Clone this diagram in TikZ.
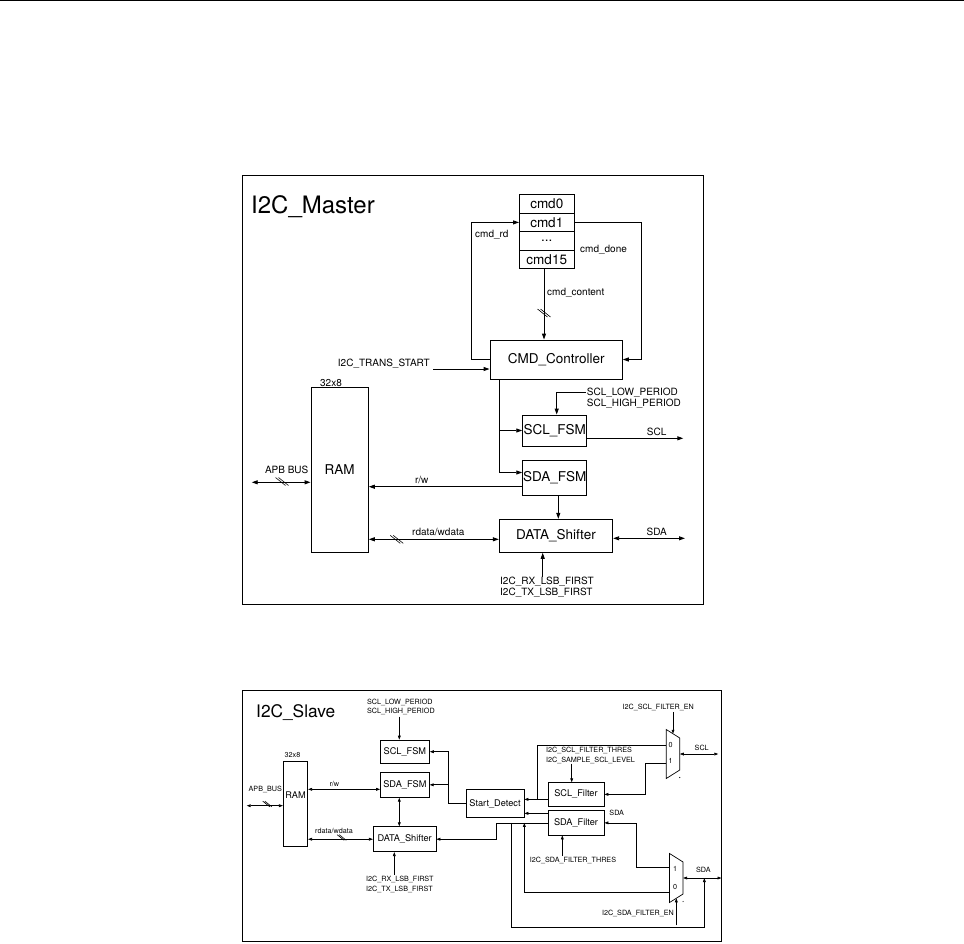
\documentclass[tikz,border=0pt]{standalone}
\usepackage{fontspec}
\setmainfont{TeX Gyre Heros}
\usetikzlibrary{arrows.meta}
\tikzset{
    frame/.style={line width=0.9pt},
    title/.style={inner sep=0pt, font=\fontsize{24}{27}\selectfont},
    titles/.style={inner sep=0pt, font=\fontsize{17.3}{20}\selectfont},
    blk/.style={draw, line width=0.9pt, inner sep=0pt, font=\fontsize{13.5}{15}\selectfont},
    blks/.style={draw, line width=0.7pt, inner sep=0pt, font=\fontsize{9.2}{10}\selectfont},
    lbl/.style={inner sep=1pt, align=left, font=\fontsize{10}{11.3}\selectfont},
    lbls/.style={inner sep=0.5pt, align=left, font=\fontsize{7.2}{9.5}\selectfont},
    sig/.style={line width=0.9pt, -{Triangle[length=6pt,width=4pt]}},
    dsig/.style={line width=0.9pt, {Triangle[length=6pt,width=4pt]}-{Triangle[length=6pt,width=4pt]}},
    wire/.style={line width=0.7pt},
    sigs/.style={line width=0.7pt, -{Triangle[length=4pt,width=2.8pt]}},
    dsigs/.style={line width=0.7pt, {Triangle[length=4pt,width=2.8pt]}-{Triangle[length=4pt,width=2.8pt]}},
    busmark/.pic={\draw[line width=0.6pt] (-6.5,-4) -- (3.5,4) (-3.5,-4) -- (6.5,4);},
    mux/.pic={
        \draw[line width=0.7pt] (-6.75,-24.5) -- (6.75,-16) -- (6.75,16) -- (-6.75,24.5) -- cycle;
        \coordinate (-top) at (0,-20.25);
        \coordinate (-bot) at (0,20.25);
        \coordinate (-out) at (6.75,0);
        \fill (6.8,23.5) circle (0.6);
    }
}

\begin{document}
\begin{tikzpicture}[x=1pt,y=-1pt]
    \useasboundingbox (0,0) rectangle (964,943);
    \draw[line width=1.2pt] (0,0.6) -- (964,0.6);

    % I2C master
    \draw[frame] (242.5,175) rectangle (703,604);
    \node[title, anchor=base west] (mtitle) at (251,213) {I2C\_Master};

    \node[blk, minimum width=54.5pt, minimum height=18.6pt] (c0) at (546.75,203.8) {cmd0};
    \node[blk, minimum width=54.5pt, minimum height=18.6pt] (c1) at (546.75,222.4) {cmd1};
    \node[blk, minimum width=54.5pt, minimum height=18.6pt] (cdots) at (546.75,241.0) {...};
    \node[blk, minimum width=54.5pt, minimum height=18.6pt] (c15) at (546.75,259.6) {cmd15};

    \node[blk, minimum width=132.3pt, minimum height=39pt] (ctrl) at (556.15,359.5) {CMD\_Controller};

    \draw[sig] (ctrl.west) -- ++(-17.7,0) |- (c1.west);
    \node[lbl, anchor=west] (cmdrd) at (474,235) {cmd\_rd};
    \draw[sig] (c1.east) -- ++(67,0) |- (ctrl.east);
    \node[lbl, anchor=west] (cmddone) at (579,250) {cmd\_done};
    \draw[sig] ([xshift=-2.75pt]c15.south) -- ([xshift=-2.75pt]c15.south |- ctrl.north);
    \node[lbl, anchor=west] (cmdcont) at (546,292.7) {cmd\_content};
    \pic at (544,313) {busmark};

    \coordinate (tsin) at (433,369);
    \node[lbl, anchor=east] (tstart) at (431,364) {I2C\_TRANS\_START};
    \draw[sig] (tsin) -- (tsin -| ctrl.west);

    \node[lbl] (ramsize) at (331,382.7) {32x8};
    \node[blk, minimum width=57.3pt, minimum height=165pt] (ram) at (339.65,469.8) {RAM};
    \node[blk, minimum width=64pt, minimum height=31pt] (sclfsm) at (554.7,430.5) {SCL\_FSM};
    \node[blk, minimum width=64pt, minimum height=35pt] (sdafsm) at (554.7,477.5) {SDA\_FSM};
    \node[blk, minimum width=113.4pt, minimum height=33pt] (shift) at (556,535.8) {DATA\_Shifter};

    \draw[sig] ([xshift=10pt]ctrl.south west) |- (sclfsm.west);
    \draw[sig] ([xshift=10pt]ctrl.south west) |- ([yshift=5pt]sdafsm.west);

    \node[lbl, anchor=west] (sclper) at (585.7,398.3) {SCL\_LOW\_PERIOD\\SCL\_HIGH\_PERIOD};
    \draw[sig] ([yshift=5.6pt]sclper.west) -| ([xshift=2pt]sclfsm.north);

    \coordinate (sclout) at (683.3,438.3);
    \draw[sig] (sclout -| sclfsm.east) -- (sclout);
    \node[lbl] (scllbl) at (656.7,431.7) {SCL};

    \draw[sig] ([yshift=-9.2pt]sdafsm.west) -- ([yshift=-9.2pt]sdafsm.west -| ram.east);
    \node[lbl] (rw) at (421.7,480) {r/w};
    \draw[sig] ([xshift=3.6pt]sdafsm.south) -- ([xshift=3.6pt]sdafsm.south |- shift.north);

    \draw[dsig] ([yshift=-3.5pt]shift.west) -- ([yshift=-3.5pt]shift.west -| ram.east);
    \node[lbl] (rdwd) at (438.3,532.3) {rdata/wdata};
    \pic at (396.7,539.3) {busmark};

    \coordinate (sdaout) at (685,538.3);
    \draw[dsig] (sdaout -| shift.east) -- (sdaout);
    \node[lbl] (sdalbl) at (656.7,531.7) {SDA};

    \coordinate (lsbin) at (542.7,576.7);
    \draw[sig] (lsbin) -- (lsbin |- shift.south);
    \node[lbl, anchor=north west] (lsb) at (499,576) {I2C\_RX\_LSB\_FIRST\\I2C\_TX\_LSB\_FIRST};

    \coordinate (apb) at (251.7,482.3);
    \draw[dsig] (apb) -- (apb -| ram.west);
    \node[lbl] (apblbl) at (286.7,470) {APB BUS};
    \pic at (282,481.5) {busmark};

    % I2C slave
    \draw[frame, line width=0.8pt] (242.7,690.7) rectangle (721.5,941);
    \node[titles, anchor=base west] (stitle) at (256,717.7) {I2C\_Slave};

    \node[lbls] (speriod) at (400.9,706.7) {SCL\_LOW\_PERIOD\\SCL\_HIGH\_PERIOD};
    \node[blks, minimum width=49pt, minimum height=23.3pt] (sclfsms) at (404.9,751.7) {SCL\_FSM};
    \node[blks, minimum width=48.8pt, minimum height=25pt] (sdafsms) at (404.9,784.8) {SDA\_FSM};
    \coordinate (sperin) at (399.3,716.5);
    \draw[sigs] (sperin) -- (sperin |- sclfsms.north);

    \node[lbls] (ramsizes) at (292.5,755) {32x8};
    \node[blks, minimum width=24.4pt, minimum height=85pt] (rams) at (295.5,803.5) {};
    \node[blks, draw=none] (ramtxt) at (295.5,795) {RAM};

    \coordinate (apbs) at (246.7,805.7);
    \draw[dsigs] (apbs) -- (apbs -| rams.west);
    \node[lbls] (apblbls) at (265.3,789) {APB\_BUS};
    \pic[scale=0.7] at (267.3,804) {busmark};

    \draw[dsigs] ([yshift=-4.5pt]sdafsms.west) -- ([yshift=-4.5pt]sdafsms.west -| rams.east);
    \node[lbls] (rws) at (334.3,784) {r/w};

    \node[blks, minimum width=62.7pt, minimum height=25pt] (shifts) at (404.65,839.2) {DATA\_Shifter};
    \draw[dsigs] (shifts.west) -- (shifts.west -| rams.east);
    \node[lbls] (rdwds) at (334,830.7) {rdata/wdata};
    \pic[scale=0.7] at (341.7,837.5) {busmark};

    \coordinate (fsmx) at (399.3,0);
    \draw[dsigs] (fsmx |- sdafsms.south) -- (fsmx |- shifts.north);

    \coordinate (lsbins) at (394.3,874.5);
    \draw[sigs] (lsbins) -- (lsbins |- shifts.south);
    \node[lbls, anchor=north west] (lsbs) at (365.5,875.5) {I2C\_RX\_LSB\_FIRST\\I2C\_TX\_LSB\_FIRST};

    \node[blks, minimum width=58pt, minimum height=28.4pt] (start) at (495,803.5) {Start\_Detect};
    \node[blks, minimum width=56pt, minimum height=23.3pt] (sclfilt) at (576,794.35) {SCL\_Filter};
    \node[blks, minimum width=56pt, minimum height=24.3pt] (sdafilt) at (576,822.85) {SDA\_Filter};

    \draw[sigs] (start.west) -- ++(-17.3,0) |- (sclfsms.east);
    \draw[sigs] (start.west) -- ++(-17.3,0) |- (sdafsms.east);
    \draw[sigs] ([yshift=-5pt]sclfilt.west) -- ([yshift=-5pt]sclfilt.west -| start.east);
    \draw[sigs] ([yshift=9.5pt]sdafilt.west) -- ([yshift=9.5pt]sdafilt.west -| start.east);
    \draw[sigs] (sdafilt.west) -- ++(-51.3,0) |- (shifts.east);

    % muxes
    \pic (muxscl) at (673,754) {mux};
    \pic (muxsda) at (676.3,878) {mux};
    \node[lbls] (scl0) at (670.5,745) {0};
    \node[lbls] (scl1) at (670.5,761) {1};
    \node[lbls] (sda1) at (675,869) {1};
    \node[lbls] (sda0) at (675,887.3) {0};

    \coordinate (sclin0) at (666.3,745.7);
    \coordinate (sclin1) at (666.3,763.3);
    \draw[wire] (sclin0) -| ([xshift=12.5pt,yshift=4.2pt]start.east);
    \draw[sigs] (sclin1) -- ++(-20.6,0) |- (sclfilt.east);

    \node[lbls] (sclen) at (658.3,707.7) {I2C\_SCL\_FILTER\_EN};
    \draw[sigs] ([yshift=22pt]muxscl-top) -- (muxscl-top);
    \coordinate (sclouts) at (718.3,755);
    \draw[dsigs] (muxscl-out) -- (muxscl-out -| sclouts);
    \node[lbls] (scls) at (701.7,748.3) {SCL};

    \node[lbls, anchor=west] (sclthr) at (545.5,755.35) {I2C\_SCL\_FILTER\_THRES\\I2C\_SAMPLE\_SCL\_LEVEL};
    \coordinate (thrin) at (571.7,763.5);
    \draw[sigs] (thrin) -- (thrin |- sclfilt.north);

    \coordinate (sdain1) at (670,867.5);
    \coordinate (sdain0) at (670,892.7);
    \draw[sigs] (sdain1) -- ++(-34,0) |- (sdafilt.east);
    \node[lbls] (sdafl) at (616.7,813.3) {SDA};
    \draw[sigs] (sdain0) -| (start.east |- sdafilt.west);

    \coordinate (sdaouts) at (721.5,878);
    \draw[dsigs] (muxsda-out) -- (muxsda-out -| sdaouts);
    \node[lbls] (sdaos) at (703.3,870) {SDA};
    \draw[sigs] ([xshift=-13pt]start.east |- sdafilt.west) -- ++(0,104) -| ([xshift=21.3pt]muxsda-out);

    \node[lbls] (sdathr) at (573,860) {I2C\_SDA\_FILTER\_THRES};
    \coordinate (sdathrin) at (562.3,856);
    \draw[sigs] (sdathrin) -- (sdathrin |- sdafilt.south);

    \node[lbls, anchor=east] (sdaen) at (674.5,913.3) {I2C\_SDA\_FILTER\_EN};
    \draw[sigs] ([yshift=-27pt]muxsda-bot) -- (muxsda-bot);
\end{tikzpicture}
\end{document}
